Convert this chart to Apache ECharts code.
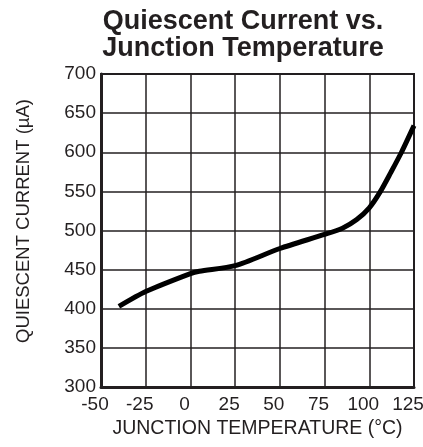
<!DOCTYPE html>
<html><head><meta charset="utf-8">
<script src="https://cdn.jsdelivr.net/npm/echarts@6/dist/echarts.min.js"></script>
<style>html,body{margin:0;padding:0;background:#fff}#c{width:423px;height:447px}</style>
</head><body><div id="c"></div>
<script>
const titleLines = ['Quiescent Current vs.', 'Junction Temperature'];
const xName = 'JUNCTION TEMPERATURE (°C)';
const yName = 'QUIESCENT CURRENT (µA)';
const temps = [-40, -25, 0, 5, 25, 50, 75, 85, 93, 100, 106, 112, 118, 125];
const current = [403, 422, 445, 448, 455, 477, 495, 503, 514, 529, 549, 574, 600, 634];
const xTicks = {min: -50, max: 125, step: 25};
const yTicks = {min: 300, max: 700, step: 50};

const chart = echarts.init(document.getElementById('c'), null, {renderer: 'canvas'});
const F = 'Liberation Sans, Arial, sans-serif';
chart.setOption({
  animation: false,
  backgroundColor: '#fff',
  title: {
    text: titleLines.join('\n'), left: 238, top: 3, textAlign: 'center',
    textStyle: {fontFamily: F, fontSize: 27, fontWeight: 'bold', color: '#231f20', lineHeight: 27}
  },
  grid: {left: 101, right: 9, top: 74, bottom: 60, show: true, borderColor: '#231f20', borderWidth: 2,
         containLabel: false, outerBoundsMode: 'none'},
  xAxis: {
    type: 'value', min: xTicks.min, max: xTicks.max, interval: xTicks.step,
    name: xName, nameLocation: 'middle', nameGap: 24,
    nameTextStyle: {fontFamily: F, fontSize: 19.5, color: '#231f20'},
    axisLine: {onZero: false, lineStyle: {color: '#231f20', width: 3}},
    axisTick: {show: false},
    axisLabel: {fontFamily: F, fontSize: 19, color: '#231f20', margin: 8, padding: [0, 12, 0, 0]},
    splitLine: {lineStyle: {color: '#231f20', width: 1.5}}
  },
  yAxis: {
    type: 'value', min: yTicks.min, max: yTicks.max, interval: yTicks.step,
    axisLine: {show: true, onZero: false, lineStyle: {color: '#231f20', width: 3}},
    axisTick: {show: false},
    axisLabel: {fontFamily: F, fontSize: 19, color: '#231f20', margin: 5},
    splitLine: {lineStyle: {color: '#231f20', width: 1.5}}
  },
  graphic: [{
    type: 'text', x: 24, y: 221, rotation: Math.PI / 2,
    style: {text: yName, fontFamily: F, fontSize: 18.5, fill: '#231f20', align: 'center', verticalAlign: 'middle'}
  }],
  series: [{
    type: 'line', data: temps.map((t, i) => [t, current[i]]), smooth: 0.25,
    symbol: 'none', lineStyle: {color: '#000', width: 5}
  }]
});
</script></body></html>
